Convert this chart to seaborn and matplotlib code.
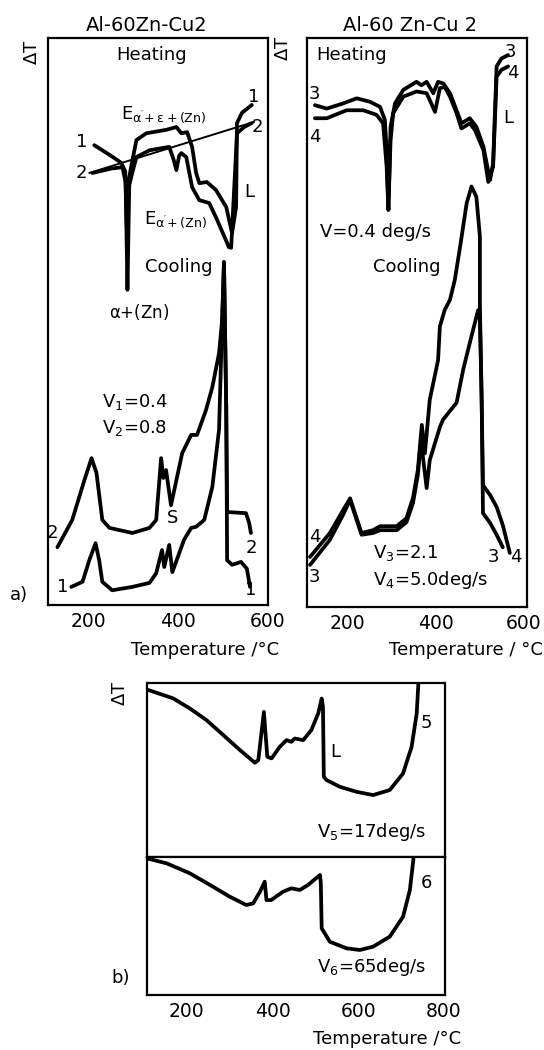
import numpy as np
import pandas as pd
import matplotlib
matplotlib.use('Agg')
import matplotlib.pyplot as plt
import seaborn as sns

# ---- a) left panel, Al-60Zn-Cu2, V1 = 0.4, V2 = 0.8 ----
heat1_t = [213, 247, 273, 282, 286, 290, 295, 307, 329, 373, 396, 407, 420, 431, 440, 447, 464, 484, 507, 520, 529, 531, 542, 564]
heat1_d = [81.1, 79.4, 78.0, 76.5, 65.0, 75.0, 77.2, 82.0, 83.2, 83.8, 84.3, 83.2, 83.4, 80.8, 76.2, 74.4, 74.6, 73.2, 70.2, 65.6, 70.2, 85.0, 86.8, 88.2]
heat2_t = [209, 253, 276, 283, 287, 291, 297, 307, 336, 380, 390, 396, 402, 407, 418, 431, 447, 469, 484, 500, 513, 518, 531, 547, 564]
heat2_d = [76.2, 77.0, 77.2, 74.5, 55.6, 74.0, 76.0, 79.0, 80.2, 80.8, 78.5, 76.7, 79.2, 79.7, 79.0, 73.7, 71.4, 70.9, 68.4, 65.5, 63.1, 63.0, 83.2, 84.3, 85.0]
base_t = [202, 569]
base_d = [76.2, 85.2]
cool1_t = [162, 187, 202, 216, 224, 231, 253, 298, 336, 351, 364, 369, 380, 387, 413, 429, 440, 458, 476, 491, 498, 502, 507, 509, 520, 540, 553, 560]
cool1_d = [3.2, 4.1, 7.9, 10.9, 7.9, 4.1, 2.6, 3.2, 3.9, 5.6, 9.7, 6.7, 10.6, 5.8, 11.5, 13.6, 13.8, 15.0, 20.8, 30.9, 50.3, 60.5, 35.0, 7.9, 7.1, 7.6, 6.4, 3.2]
cool2_t = [131, 164, 191, 207, 218, 231, 247, 298, 336, 351, 362, 367, 373, 384, 409, 429, 442, 462, 476, 491, 498, 502, 507, 509, 530, 551, 558, 562]
cool2_d = [10.2, 15.0, 22.0, 25.9, 23.3, 15.0, 13.6, 12.7, 13.6, 15.0, 25.9, 22.4, 23.8, 17.6, 26.8, 30.0, 30.0, 34.4, 38.4, 44.4, 50.3, 60.5, 35.0, 16.4, 16.3, 16.2, 14.5, 12.7]

# ---- a) right panel, V = 0.4 heating, V3 = 2.1, V4 = 5.0 cooling ----
heat3_t = [125, 152, 189, 220, 250, 273, 284, 288, 292, 297, 307, 326, 356, 367, 379, 394, 405, 417, 432, 447, 458, 477, 492, 508, 523, 530, 538, 549, 564]
heat3_d = [88.2, 87.6, 88.5, 89.4, 88.8, 87.9, 85.6, 80.3, 69.8, 84.4, 88.5, 90.9, 92.3, 91.7, 92.3, 90.3, 92.3, 92.0, 90.3, 87.3, 85.0, 85.9, 84.4, 80.9, 75.0, 78.0, 95.0, 96.4, 97.0]
heat4_t = [125, 152, 197, 235, 265, 280, 288, 292, 297, 303, 326, 356, 379, 386, 398, 409, 420, 432, 447, 458, 477, 489, 508, 519, 530, 538, 549, 564]
heat4_d = [85.9, 85.9, 87.3, 87.3, 86.5, 85.0, 77.4, 69.8, 82.1, 86.8, 89.7, 90.6, 90.3, 89.1, 87.0, 91.2, 91.4, 89.7, 86.8, 84.1, 85.0, 83.8, 80.3, 74.7, 77.4, 93.2, 94.4, 95.0]
cool4_t = [114, 159, 189, 205, 216, 231, 257, 273, 311, 333, 348, 359, 368, 375, 386, 405, 409, 420, 432, 443, 455, 470, 481, 492, 500, 500, 504, 507, 523, 538, 552, 568]
cool4_d = [8.8, 13.0, 17.0, 19.1, 16.5, 13.0, 13.5, 14.2, 14.2, 15.6, 19.2, 24.1, 32.0, 27.0, 36.4, 43.4, 49.3, 52.2, 54.0, 57.5, 63.3, 71.0, 73.9, 72.1, 65.1, 53.4, 36.4, 21.4, 19.7, 17.6, 14.4, 9.5]
cool3_t = [114, 159, 189, 205, 216, 231, 257, 273, 311, 333, 348, 359, 366, 370, 379, 386, 409, 416, 447, 462, 477, 496, 500, 504, 507, 523, 538, 552]
cool3_d = [7.4, 11.8, 16.2, 18.8, 16.2, 12.7, 13.0, 13.5, 13.5, 14.9, 18.3, 23.2, 29.3, 26.7, 20.9, 25.8, 31.6, 32.9, 35.9, 41.7, 46.4, 52.2, 50.4, 36.4, 16.5, 14.8, 12.7, 10.5]

# ---- b) V5 = 17 deg/s, V6 = 65 deg/s ----
cool5_t = [110, 168, 207, 246, 285, 324, 359, 367, 380, 388, 398, 417, 433, 444, 452, 472, 491, 507, 515, 518, 520, 526, 557, 596, 635, 674, 705, 725, 737, 742]
cool5_d = [96.0, 91.2, 85.4, 78.7, 70.1, 61.5, 54.2, 55.7, 83.4, 57.6, 56.7, 63.3, 67.2, 66.2, 68.1, 67.2, 73.0, 82.6, 91.1, 86.3, 46.1, 44.3, 40.4, 37.5, 35.6, 38.5, 48.0, 63.3, 82.6, 105.0]
cool6_t = [107, 153, 207, 261, 300, 339, 355, 371, 382, 386, 397, 425, 444, 464, 483, 511, 513, 515, 534, 573, 604, 635, 674, 705, 721, 729, 730]
cool6_d = [99.0, 95.4, 88.2, 78.5, 71.3, 65.2, 66.4, 74.9, 82.1, 68.8, 68.8, 74.9, 77.3, 76.1, 79.7, 87.0, 81.0, 48.3, 38.6, 33.8, 32.6, 35.0, 42.3, 56.7, 76.1, 97.8, 105.0]

sns.set_style('white')
plt.rcParams['font.family'] = ['DejaVu Sans']
plt.rcParams['mathtext.default'] = 'regular'
plt.rcParams['text.color'] = 'black'

INK = 'black'
LW = 2.7
FS = 13


def curve(ax, t, d, lw=LW):
    df = pd.DataFrame({'T': t, 'dT': d})
    sns.lineplot(data=df, x='T', y='dT', ax=ax, sort=False, estimator=None,
                 color=INK, linewidth=lw, solid_joinstyle='round', solid_capstyle='round')


def frame(ax, xlim, major, minor, labels=True):
    ax.set_xlim(*xlim)
    ax.set_ylim(0, 100)
    ax.set_yticks([])
    ax.set_xlabel('')
    ax.set_ylabel('')
    for s in ax.spines.values():
        s.set_color(INK)
        s.set_linewidth(1.6)
    if labels:
        ax.set_xticks(major)
        ax.set_xticks(minor, minor=True)
        ax.tick_params(axis='x', which='major', direction='in', length=8, width=1.4,
                       labelsize=13.5, pad=5, colors=INK)
        ax.tick_params(axis='x', which='minor', direction='in', length=5, width=1.4)
    else:
        ax.set_xticks([])


fig = plt.figure(figsize=(5.44, 10.5), dpi=100)

# left panel
ax1 = fig.add_axes([0.0882, 0.4238, 0.4044, 0.5400])
for t, d in [(heat1_t, heat1_d), (heat2_t, heat2_d), (cool1_t, cool1_d), (cool2_t, cool2_d)]:
    curve(ax1, t, d)
curve(ax1, base_t, base_d, lw=1.4)
frame(ax1, (110, 600), [200, 400, 600], [300, 500])
ax1.text(340, 97, 'Heating', ha='center', va='center', fontsize=FS)
ax1.text(367, 85.8, r'$E_{\alpha^{\prime}\!+\epsilon+(Zn)}$', ha='center', va='baseline', fontsize=FS)
ax1.text(394, 67.9, r'$E_{\alpha^{\prime}\!+(Zn)}$', ha='center', va='center', fontsize=FS)
ax1.text(402, 59.6, 'Cooling', ha='center', va='center', fontsize=FS)
ax1.text(313, 51.7, r'$\alpha$+(Zn)', ha='center', va='center', fontsize=12)
ax1.text(231, 35.8, r'$V_1$=0.4', ha='left', va='center', fontsize=FS)
ax1.text(231, 31.2, r'$V_2$=0.8', ha='left', va='center', fontsize=FS)
ax1.text(387, 15.3, 'S', ha='center', va='center', fontsize=FS)
for x, y, s in [(184, 81.7, '1'), (184, 76.2, '2'), (569, 89.6, '1'), (577, 84.3, '2'),
                (558, 72.8, 'L'), (120, 12.7, '2'), (142, 3.2, '1'), (562, 10.0, '2'), (562, 2.6, '1')]:
    ax1.text(x, y, s, ha='center', va='center', fontsize=FS)

# right panel
ax2 = fig.add_axes([0.5643, 0.4219, 0.4044, 0.5419])
for t, d in [(heat3_t, heat3_d), (heat4_t, heat4_d), (cool3_t, cool3_d), (cool4_t, cool4_d)]:
    curve(ax2, t, d)
frame(ax2, (107, 607), [200, 400, 600], [300, 500])
ax2.text(209, 97, 'Heating', ha='center', va='center', fontsize=FS)
ax2.text(136, 65.9, 'V=0.4 deg/s', ha='left', va='center', fontsize=FS)
ax2.text(334, 59.8, 'Cooling', ha='center', va='center', fontsize=FS)
ax2.text(257, 9.5, r'$V_3$=2.1', ha='left', va='center', fontsize=FS)
ax2.text(257, 4.7, r'$V_4$=5.0deg/s', ha='left', va='center', fontsize=FS)
for x, y, s in [(125, 90.2, '3'), (125, 82.6, '4'), (570, 97.5, '3'), (575, 93.8, '4'),
                (564, 86.0, 'L'), (125, 12.3, '4'), (125, 5.3, '3'), (530, 8.8, '3'), (582, 8.8, '4')]:
    ax2.text(x, y, s, ha='center', va='center', fontsize=FS)

# b) panels
ax3 = fig.add_axes([0.2702, 0.1838, 0.5478, 0.1657])
curve(ax3, cool5_t, cool5_d)
frame(ax3, (107, 803), [], [], labels=False)
ax3.text(546, 60.3, 'L', ha='center', va='center', fontsize=FS)
ax3.text(760, 77, '5', ha='center', va='center', fontsize=FS)
ax3.text(504, 14.4, r'$V_5$=17deg/s', ha='left', va='center', fontsize=FS)

ax4 = fig.add_axes([0.2702, 0.0524, 0.5478, 0.1314])
curve(ax4, cool6_t, cool6_d)
frame(ax4, (107, 803), [200, 400, 600, 800], [300, 500, 700])
ax4.text(760, 81, '6', ha='center', va='center', fontsize=FS)
ax4.text(504, 20.3, r'$V_6$=65deg/s', ha='left', va='center', fontsize=FS)

# figure-level labels
fig.text(0.270, 0.976, 'Al-60Zn-Cu2', ha='center', va='center', fontsize=14)
fig.text(0.754, 0.976, 'Al-60 Zn-Cu 2', ha='center', va='center', fontsize=14)
fig.text(0.059, 0.950, r'$\Delta$T', ha='center', va='center', rotation=90, fontsize=FS)
fig.text(0.520, 0.954, r'$\Delta$T', ha='center', va='center', rotation=90, fontsize=FS)
fig.text(0.221, 0.340, r'$\Delta$T', ha='center', va='center', rotation=90, fontsize=FS)
fig.text(0.035, 0.433, 'a)', ha='center', va='center', fontsize=FS)
fig.text(0.222, 0.069, 'b)', ha='center', va='center', fontsize=FS)
fig.text(0.377, 0.381, 'Temperature /°C', ha='center', va='center', fontsize=FS)
fig.text(0.857, 0.381, 'Temperature / °C', ha='center', va='center', fontsize=FS)
fig.text(0.711, 0.010, 'Temperature /°C', ha='center', va='center', fontsize=FS)

fig.savefig('out.png', dpi=100, facecolor='white')
